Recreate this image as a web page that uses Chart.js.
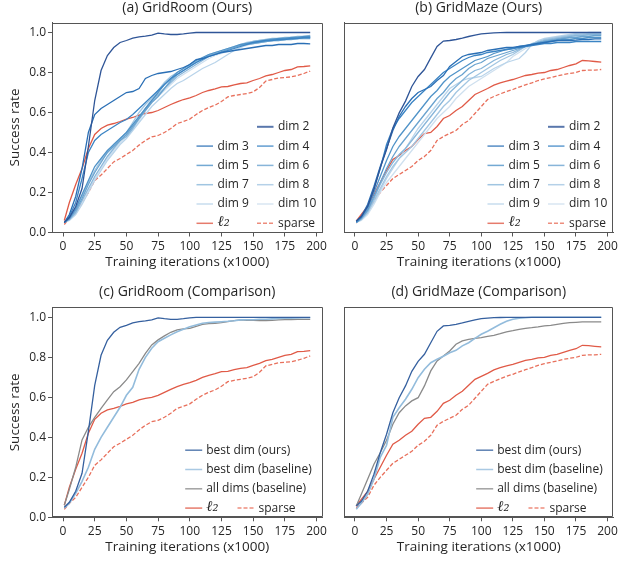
<!DOCTYPE html>
<html><head><meta charset="utf-8">
<script src="https://cdn.jsdelivr.net/npm/chart.js@4.4.0/dist/chart.umd.min.js"></script>
<style>
html,body{margin:0;padding:0;background:#fff;}
#wrap{position:relative;width:621px;height:561px;background:#fff;overflow:hidden;}
canvas{position:absolute;}
</style></head><body>
<div id="wrap">
<canvas id="cA" width="330" height="280" style="left:0;top:0"></canvas>
<canvas id="cB" width="291" height="280" style="left:330px;top:0"></canvas>
<canvas id="cC" width="330" height="281" style="left:0;top:280px"></canvas>
<canvas id="cD" width="291" height="281" style="left:330px;top:280px"></canvas>
</div>
<script>
// ---------- data ----------
const iterations = [1,5,10,15,20,25,30,35,40,45,50,55,60,65,70,75,80,85,90,95,100,105,110,115,120,125,130,135,140,145,150,155,160,165,170,175,180,185,190,195];
const xTicks = [0,25,50,75,100,125,150,175,200];
const xTickLabels = ['0','25','50','75','100','125','150','175','200'];
const yTicks = [0,0.2,0.4,0.6,0.8,1.0];
const yTickLabels = ['0.0','0.2','0.4','0.6','0.8','1.0'];
const titles = ['(a) GridRoom (Ours)','(b) GridMaze (Ours)','(c) GridRoom (Comparison)','(d) GridMaze (Comparison)'];
const dimLabels = ['dim 2','dim 3','dim 4','dim 5','dim 6','dim 7','dim 8','dim 9','dim 10'];
const compLabels = ['best dim (ours)','best dim (baseline)','all dims (baseline)'];
const l2Label = 'ℓ₂';
const sparseLabel = 'sparse';

// GridRoom
const roomDim2 = [.05,.075,.13,.22,.43,.66,.81,.885,.925,.95,.96,.972,.978,.982,.987,.997,.993,.99,.99,.993,.997,1,1,1,1,1,1,1,1,1,1,1,1,1,1,1,1,1,1,1];
const roomDim3 = [.05,.09,.18,.32,.50,.59,.62,.64,.66,.68,.70,.705,.72,.77,.785,.795,.80,.805,.815,.825,.84,.865,.87,.88,.89,.90,.905,.91,.915,.92,.925,.93,.935,.935,.94,.94,.94,.945,.945,.943];
const roomDim4 = [.05,.08,.15,.27,.40,.46,.49,.51,.53,.55,.565,.59,.62,.65,.68,.71,.74,.77,.79,.81,.83,.85,.865,.88,.89,.90,.91,.92,.93,.94,.95,.955,.96,.96,.965,.965,.97,.97,.975,.975];
const roomDim5 = [.05,.07,.12,.19,.26,.33,.37,.41,.44,.47,.50,.54,.58,.62,.66,.70,.74,.77,.80,.82,.84,.86,.875,.89,.90,.91,.92,.93,.94,.945,.95,.955,.96,.965,.97,.97,.975,.975,.98,.98];
const roomDim6 = [.05,.07,.11,.17,.24,.30,.35,.40,.43,.46,.49,.53,.57,.61,.65,.68,.72,.76,.79,.81,.83,.85,.87,.885,.895,.905,.915,.925,.935,.94,.945,.95,.955,.96,.96,.965,.965,.97,.97,.97];
const roomDim7 = [.05,.065,.10,.16,.22,.28,.33,.38,.42,.46,.48,.52,.57,.62,.66,.69,.72,.75,.78,.80,.82,.84,.86,.88,.89,.90,.915,.925,.935,.945,.955,.96,.965,.97,.97,.975,.975,.98,.98,.985];
const roomDim8 = [.05,.07,.12,.18,.25,.31,.36,.40,.44,.47,.50,.55,.60,.64,.67,.71,.75,.78,.80,.82,.835,.855,.87,.89,.90,.91,.92,.93,.94,.95,.955,.96,.96,.965,.965,.97,.97,.975,.975,.975];
const roomDim9 = [.05,.06,.09,.14,.20,.26,.31,.36,.40,.44,.47,.51,.55,.59,.63,.66,.69,.72,.745,.76,.78,.80,.82,.835,.85,.87,.89,.91,.925,.94,.945,.95,.955,.96,.965,.965,.97,.97,.975,.975];
const roomDim10 = [.05,.065,.10,.15,.21,.27,.32,.37,.41,.45,.48,.52,.56,.61,.65,.68,.71,.74,.77,.79,.81,.83,.85,.87,.885,.895,.905,.915,.925,.935,.945,.95,.955,.96,.96,.965,.97,.97,.975,.98];
const roomL2 = [.06,.15,.24,.32,.42,.49,.52,.537,.545,.555,.567,.575,.587,.595,.60,.61,.625,.64,.653,.665,.673,.685,.70,.71,.718,.728,.73,.738,.745,.748,.76,.77,.783,.79,.80,.81,.815,.828,.83,.833];
const roomSparse = [.04,.07,.10,.15,.20,.26,.287,.32,.353,.37,.39,.41,.437,.46,.478,.485,.50,.52,.545,.555,.567,.59,.61,.625,.637,.655,.678,.685,.69,.695,.703,.725,.757,.765,.773,.775,.778,.785,.795,.807];
const roomBestBase = [.045,.07,.12,.18,.25,.34,.40,.45,.50,.55,.61,.65,.74,.80,.845,.878,.895,.912,.928,.94,.953,.962,.97,.974,.976,.978,.98,.983,.987,.988,.988,.99,.99,.992,.994,.995,.996,.997,.998,.998];
const roomAllBase = [.06,.14,.25,.387,.45,.50,.545,.587,.628,.653,.687,.728,.77,.82,.862,.887,.907,.925,.937,.942,.945,.955,.965,.968,.97,.973,.978,.983,.987,.985,.985,.983,.983,.985,.987,.988,.988,.99,.99,.99];

// GridMaze
const mazeDim2 = [.057,.08,.13,.215,.323,.415,.523,.598,.657,.73,.78,.815,.873,.93,.957,.96,.965,.972,.98,.987,.993,.996,.998,.999,1,1,1,1,1,1,1,1,1,1,1,1,1,1,1,1];
const mazeDim3 = [.055,.08,.14,.23,.33,.42,.51,.58,.63,.67,.70,.715,.73,.76,.785,.83,.855,.88,.89,.895,.90,.91,.915,.92,.925,.926,.93,.934,.94,.945,.95,.955,.96,.96,.96,.962,.965,.965,.968,.968];
const mazeDim4 = [.055,.08,.13,.22,.32,.44,.52,.57,.61,.65,.68,.71,.74,.77,.80,.82,.84,.86,.875,.885,.89,.90,.905,.91,.915,.92,.925,.93,.935,.94,.945,.945,.95,.95,.95,.955,.955,.955,.955,.955];
const mazeDim5 = [.05,.075,.12,.20,.28,.36,.43,.48,.52,.56,.60,.64,.68,.71,.75,.78,.80,.82,.84,.86,.87,.88,.895,.905,.915,.92,.93,.935,.94,.945,.95,.955,.96,.965,.965,.97,.97,.975,.975,.975];
const mazeDim6 = [.05,.07,.11,.18,.25,.32,.38,.43,.47,.51,.55,.59,.63,.67,.70,.74,.77,.79,.82,.84,.85,.87,.88,.89,.90,.91,.92,.93,.94,.95,.955,.96,.965,.97,.975,.975,.98,.98,.985,.985];
const mazeDim7 = [.05,.07,.11,.17,.24,.30,.35,.39,.42,.46,.50,.54,.58,.62,.66,.70,.73,.76,.79,.81,.82,.84,.86,.875,.89,.90,.915,.93,.94,.95,.96,.965,.97,.975,.98,.985,.985,.99,.99,.99];
const mazeDim8 = [.05,.065,.10,.16,.22,.28,.33,.37,.40,.43,.47,.51,.55,.59,.63,.66,.70,.73,.76,.78,.80,.82,.84,.86,.875,.89,.91,.93,.945,.955,.965,.97,.975,.98,.985,.99,.99,.995,.995,.995];
const mazeDim9 = [.05,.065,.10,.15,.21,.27,.32,.37,.42,.47,.52,.56,.60,.64,.68,.72,.74,.76,.77,.775,.78,.80,.82,.835,.85,.86,.87,.90,.94,.96,.97,.975,.98,.985,.99,.995,.995,1,1,1];
const mazeDim10 = [.05,.06,.09,.14,.20,.25,.29,.33,.37,.41,.45,.49,.53,.57,.60,.63,.67,.70,.73,.75,.77,.79,.81,.83,.85,.88,.90,.92,.935,.945,.955,.96,.965,.97,.975,.98,.985,.985,.99,.99];
const mazeL2 = [.057,.09,.13,.19,.25,.31,.365,.385,.41,.43,.465,.495,.50,.53,.57,.585,.61,.63,.66,.69,.705,.72,.737,.748,.757,.765,.775,.785,.79,.797,.80,.81,.815,.825,.835,.843,.86,.858,.855,.852];
const mazeSparse = [.048,.07,.10,.16,.20,.235,.27,.29,.31,.33,.36,.38,.41,.46,.48,.495,.51,.54,.56,.595,.63,.665,.68,.693,.705,.715,.727,.738,.748,.76,.768,.775,.782,.79,.795,.80,.81,.812,.812,.815];
const mazeBestBase = [.04,.07,.115,.19,.30,.36,.50,.548,.59,.64,.698,.74,.773,.79,.805,.823,.835,.857,.873,.895,.915,.93,.948,.965,.98,.99,.995,.998,1,1,1,1,1,1,1,1,1,1,1,1];
const mazeAllBase = [.057,.115,.19,.265,.323,.385,.465,.523,.557,.582,.598,.657,.732,.782,.807,.832,.865,.882,.89,.895,.898,.905,.91,.918,.927,.933,.94,.945,.948,.952,.957,.96,.965,.97,.973,.975,.977,.977,.977,.977];

// ---------- styling ----------
const FONT = "'Open Sans', 'DejaVu Sans', sans-serif";
const TXT = '#262626';
const AX = '#555555';
const dimColors = ['#2f5597','#2a6fb5','#3b84c4','#5093c8','#6aa3cf','#88b6da','#a2c6e2','#b9d4ea','#cfe0ef'];
const L2C = '#e05a47', SPC = '#e8705c', BASEC = '#93bcdc', ALLC = '#8a8a8a', OURC = '#35609f';

function series(label, arr, color, extra) {
  return Object.assign({
    label: label,
    data: iterations.map((x, i) => ({x: x, y: arr[i]})),
    borderColor: color, backgroundColor: color,
    borderWidth: 1.3, pointRadius: 0, fill: false, tension: 0
  }, extra || {});
}

const frameLegend = {
  id: 'frameLegend',
  afterDatasetsDraw(chart, args, o) {
    const {ctx, chartArea: a} = chart;
    ctx.save();
    ctx.strokeStyle = AX; ctx.lineWidth = 1;
    ctx.beginPath();
    const L = Math.round(a.left) + 0.5, R = Math.round(a.right) - 0.5, T = Math.round(a.top) + 0.5, B = Math.round(a.bottom) - 0.5;
    ctx.rect(L, T, R - L, B - T);
    ctx.stroke();
    if (o && o.rows) {
      ctx.textBaseline = 'middle';
      ctx.textAlign = 'left';
      const n = o.rows.length;
      o.rows.forEach((row, r) => {
        const y = a.bottom - o.bottom - (n - 1 - r) * o.step;
        row.forEach((di, c) => {
          if (di === null) return;
          const ds = chart.data.datasets[di];
          const x0 = a.right + o.cols[c];
          ctx.globalAlpha = 0.8;
          ctx.strokeStyle = ds.borderColor;
          ctx.lineWidth = di === 0 && o.thickFirst ? 2 : 1.5;
          ctx.setLineDash(ds.borderDash || []);
          ctx.beginPath(); ctx.moveTo(x0, y); ctx.lineTo(x0 + o.handle, y); ctx.stroke();
          ctx.setLineDash([]);
          ctx.globalAlpha = 1;
          ctx.fillStyle = TXT;
          if (ds.label === l2Label) {
            ctx.font = "italic 15px 'DejaVu Serif', serif";
            ctx.fillText(ds.label, x0 + o.handle + o.gap, y - 1);
          } else {
            ctx.font = '12px ' + FONT;
            ctx.fillText(ds.label, x0 + o.handle + o.gap, y);
          }
        });
      });
    }
    ctx.restore();
  }
};

function makeChart(id, datasets, c) {
  const tickFont = {family: FONT, size: 12};
  return new Chart(document.getElementById(id), {
    type: 'line',
    data: {datasets: datasets},
    plugins: [frameLegend],
    options: {
      responsive: false, animation: false,
      layout: {padding: {left: 0, right: c.padRight, top: 0, bottom: 0}},
      plugins: {
        legend: {display: false}, tooltip: {enabled: false},
        title: {display: true, text: c.title, fullSize: false, color: TXT,
                font: {family: FONT, size: 14, weight: 'normal'}, padding: c.titlePad},
        frameLegend: c.legend
      },
      scales: {
        x: {
          type: 'linear', min: -8.7, max: 204.7,
          afterBuildTicks: s => { s.ticks = xTicks.map(v => ({value: v})); },
          afterFit: s => { s.height = c.xHeight; },
          ticks: {callback: (v, i) => xTickLabels[i], font: tickFont, color: TXT, padding: 3, maxRotation: 0, autoSkip: false},
          grid: {display: true, drawOnChartArea: false, drawTicks: true, tickLength: 4, color: AX, lineWidth: 1},
          border: {display: true, color: AX, width: 1},
          title: {display: true, text: 'Training iterations (x1000)', color: TXT,
                  font: {family: FONT, size: 13.5, weight: 'normal'}, padding: {top: 0, bottom: c.xTitlePad}}
        },
        y: {
          type: 'linear', min: 0, max: 1.05,
          afterBuildTicks: s => { s.ticks = yTicks.map(v => ({value: v})); },
          afterFit: s => { s.width = c.yWidth; },
          ticks: {display: c.showY, callback: (v, i) => yTickLabels[i], font: tickFont, color: TXT, padding: 2},
          grid: {display: c.showY, drawOnChartArea: false, drawTicks: true, tickLength: 4, color: AX, lineWidth: 1},
          border: {display: true, color: AX, width: 1},
          title: {display: c.showY, text: 'Success rate', color: TXT,
                  font: {family: FONT, size: 13.5, weight: 'normal'}, padding: {top: 6.9, bottom: 0}}
        }
      }
    }
  });
}

const roomDims = [roomDim2, roomDim3, roomDim4, roomDim5, roomDim6, roomDim7, roomDim8, roomDim9, roomDim10];
const mazeDims = [mazeDim2, mazeDim3, mazeDim4, mazeDim5, mazeDim6, mazeDim7, mazeDim8, mazeDim9, mazeDim10];

function dimSets(dims, l2, sp) {
  const out = dims.map((arr, k) => series(dimLabels[k], arr, dimColors[k]));
  out.push(series(l2Label, l2, L2C));
  out.push(series(sparseLabel, sp, SPC, {borderDash: [4, 2]}));
  return out;
}
function compSets(ours, base, all, l2, sp) {
  return [
    series(compLabels[0], ours, OURC),
    series(compLabels[1], base, BASEC, {borderWidth: 1.6}),
    series(compLabels[2], all, ALLC),
    series(l2Label, l2, L2C),
    series(sparseLabel, sp, SPC, {borderDash: [4, 2]})
  ];
}

const legTop = {rows: [[null,0],[1,2],[3,4],[5,6],[7,8],[9,10]], cols: [-126, -65.5], step: 19.3, bottom: 9.2, handle: 16.5, gap: 4.5, thickFirst: true};
const legBot = {rows: [[0],[1],[2],[3,4]], cols: [-137.3, -85], step: 19.3, bottom: 9.2, handle: 17, gap: 4};

makeChart('cA', dimSets(roomDims, roomL2, roomSparse),
  {title: titles[0], showY: true, yWidth: 52, padRight: 7, xHeight: 47.5, xTitlePad: 9.4, titlePad: {top: 0, bottom: 5.7}, legend: legTop});
makeChart('cB', dimSets(mazeDims, mazeL2, mazeSparse),
  {title: titles[1], showY: false, yWidth: 14, padRight: 6.7, xHeight: 47.5, xTitlePad: 9.4, titlePad: {top: 0, bottom: 5.7}, legend: legTop});
makeChart('cC', compSets(roomDim2, roomBestBase, roomAllBase, roomL2, roomSparse),
  {title: titles[2], showY: true, yWidth: 52, padRight: 7, xHeight: 43.7, xTitlePad: 6.2, titlePad: {top: 4.1, bottom: 6.4}, legend: legBot});
makeChart('cD', compSets(mazeDim2, mazeBestBase, mazeAllBase, mazeL2, mazeSparse),
  {title: titles[3], showY: false, yWidth: 14, padRight: 7, xHeight: 43.7, xTitlePad: 6.2, titlePad: {top: 4.1, bottom: 6.4}, legend: legBot});
</script>
</body></html>
